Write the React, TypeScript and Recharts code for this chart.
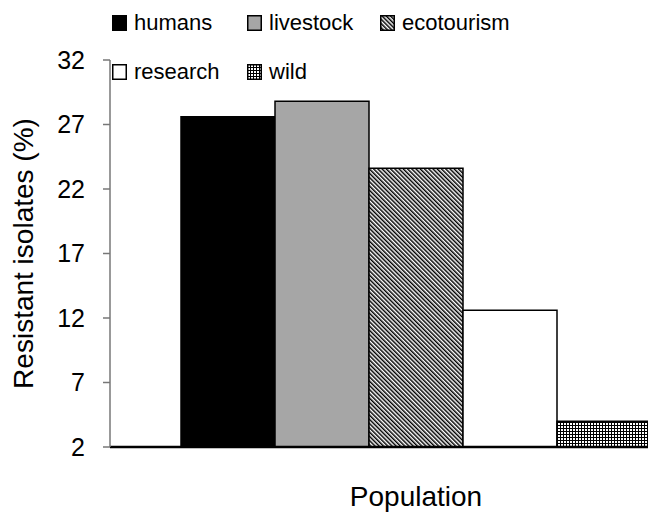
import { BarChart, Bar, XAxis, YAxis, Legend } from "recharts";

// categories and values (% resistant isolates)
const groups = ["humans", "livestock", "ecotourism", "research", "wild"];
const resistant = [27.6, 28.8, 23.6, 12.6, 4.0];
const yTicks = [2, 7, 12, 17, 22, 27, 32];
const xLabel = "Population";
const yLabel = "Resistant isolates (%)";

const fills: Record<string, string> = {
  humans: "#000000",
  livestock: "#a6a6a6",
  ecotourism: "url(#hatch)",
  research: "#ffffff",
  wild: "url(#grid)",
};

const data = [
  groups.reduce(
    (row, g, i) => ({ ...row, [g]: resistant[i] }),
    { name: xLabel } as Record<string, string | number>
  ),
];

const font = '"Liberation Sans", Arial, sans-serif';

function Patterns({ suffix = "" }: { suffix?: string }) {
  return (
    <defs>
      <pattern
        id={"hatch" + suffix}
        width="3"
        height="3"
        patternUnits="userSpaceOnUse"
        patternTransform="rotate(-45)"
      >
        <rect width="3" height="3" fill="#fff" />
        <rect width="1.5" height="3" fill="#000" />
      </pattern>
      <pattern id={"grid" + suffix} width="3" height="3" patternUnits="userSpaceOnUse">
        <rect width="3" height="3" fill="#fff" />
        <rect width="1" height="3" fill="#000" />
        <rect width="3" height="1" fill="#000" />
      </pattern>
    </defs>
  );
}

function Swatch({ name }: { name: string }) {
  const f = fills[name].replace(/url\(#(\w+)\)/, "url(#$1-lg)");
  return (
    <svg width="15" height="16" style={{ flex: "none" }}>
      <Patterns suffix="-lg" />
      <rect x="0.75" y="0.75" width="13.5" height="14.5" fill={f} stroke="#000" strokeWidth="1.5" />
    </svg>
  );
}

function LegendBox() {
  const cols = [135, 133, 140];
  return (
    <div
      style={{
        display: "grid",
        gridTemplateColumns: cols.map((c) => c + "px").join(" "),
        rowGap: 23,
        fontFamily: font,
        fontSize: 22,
        lineHeight: "26px",
        color: "#000",
      }}
    >
      {groups.map((g) => (
        <div key={g} style={{ display: "flex", alignItems: "center", gap: 7 }}>
          <Swatch name={g} />
          <span>{g}</span>
        </div>
      ))}
    </div>
  );
}

export default function App() {
  return (
    <div style={{ width: 640, height: 504, padding: "8px 0 0 8px" }}>
      {/* the last bar runs off the right edge of the figure */}
      <style>{"html{overflow:hidden}body{margin:0}"}</style>
      <BarChart
        width={720}
        height={504}
        data={data}
        margin={{ top: 52, right: 6, left: 0, bottom: 0 }}
        barGap={0}
        barCategoryGap={71}
        style={{ fontFamily: font }}
      >
        <Patterns />
        <XAxis
          dataKey="name"
          tick={false}
          tickLine={false}
          axisLine={{ stroke: "#000", strokeWidth: 2.5 }}
          height={65}
          label={{ value: xLabel, position: "insideBottom", offset: 6, fill: "#000", fontSize: 28 }}
        />
        <YAxis
          type="number"
          domain={[2, 32]}
          ticks={yTicks}
          interval={0}
          width={102}
          tickSize={7}
          tickMargin={18}
          tick={{ fill: "#000", fontSize: 25 }}
          axisLine={{ stroke: "#777", strokeWidth: 1.5 }}
          tickLine={{ stroke: "#777", strokeWidth: 1.5 }}
          label={{
            value: yLabel,
            angle: -90,
            position: "insideLeft",
            offset: 15,
            fill: "#000",
            fontSize: 28,
            style: { textAnchor: "middle" },
          }}
        />
        <Legend
          layout="vertical"
          align="center"
          verticalAlign="middle"
          wrapperStyle={{ top: 2, left: 104, width: 420 }}
          content={() => <LegendBox />}
        />
        {groups.map((g) => (
          <Bar
            key={g}
            dataKey={g}
            name={g}
            fill={fills[g]}
            stroke="#000"
            strokeWidth={1.5}
            isAnimationActive={false}
          />
        ))}
      </BarChart>
    </div>
  );
}
